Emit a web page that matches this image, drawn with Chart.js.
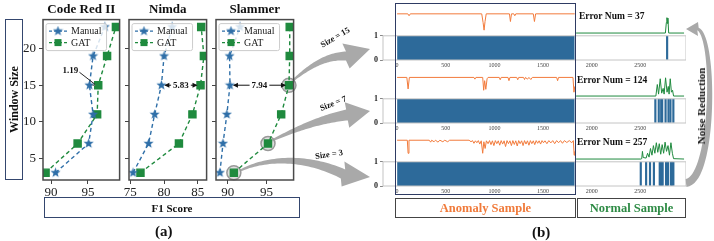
<!DOCTYPE html>
<html>
<head>
<meta charset="utf-8">
<script src="https://cdn.jsdelivr.net/npm/chart.js@4.4.1/dist/chart.umd.min.js"></script>
<style>
body{margin:0;width:714px;height:241px;position:relative;background:#fff;overflow:hidden;font-family:"Liberation Serif","Times New Roman",serif;color:#111}
canvas{position:absolute}
.box{position:absolute;box-sizing:border-box;border:1.5px solid #34466e;display:flex;align-items:center;justify-content:center;font-weight:bold;z-index:6}
.lbl{position:absolute;font-weight:bold;white-space:nowrap;z-index:6}
</style>
</head>
<body>

<canvas id="overlay" width="714" height="241" style="left:0;top:0;"></canvas>

<canvas id="codeChart" width="106" height="198" style="left:20px;top:0;"></canvas>
<canvas id="nimdaChart" width="98" height="198" style="left:115px;top:0;"></canvas>
<canvas id="slammerChart" width="98" height="198" style="left:202px;top:0;"></canvas>

<canvas id="sig0" width="303" height="24" style="left:383px;top:10px;"></canvas>
<canvas id="bar0" width="326" height="41" style="left:360px;top:29px;"></canvas>
<canvas id="sig1" width="303" height="24" style="left:383px;top:73px;"></canvas>
<canvas id="bar1" width="326" height="41" style="left:360px;top:92px;"></canvas>
<canvas id="sig2" width="303" height="24" style="left:383px;top:136px;"></canvas>
<canvas id="bar2" width="326" height="41" style="left:360px;top:155px;"></canvas>

<div class="box" style="left:5px;top:19px;width:18px;height:161px;"><span style="transform:rotate(-90deg);font-size:12px;white-space:nowrap;">Window Size</span></div>
<div class="box" style="left:44px;top:197px;width:256px;height:21px;font-size:11px;">F1 Score</div>
<div class="lbl" style="left:155px;top:223px;font-size:15px;">(a)</div>
<div class="lbl" style="left:532px;top:224px;font-size:15px;">(b)</div>

<div class="box" style="left:395px;top:3px;width:181px;height:192px;border-color:#2e3b63;"></div>
<div class="box" style="left:395px;top:198px;width:181px;height:20px;border-color:#444;color:#f07a3a;font-size:12.5px;">Anomaly Sample</div>
<div class="box" style="left:577px;top:198px;width:109px;height:20px;border-color:#444;color:#2e8b45;font-size:12.5px;">Normal Sample</div>

<div class="lbl" style="left:579px;top:11px;font-size:9.5px;">Error Num = 37</div>
<div class="lbl" style="left:577px;top:75px;font-size:9.5px;">Error Num = 124</div>
<div class="lbl" style="left:577px;top:137px;font-size:9.5px;">Error Num = 257</div>

<div class="lbl" style="left:335px;top:37px;font-size:8.5px;transform:translate(-50%,-50%) rotate(-30deg);">Size = 15</div>
<div class="lbl" style="left:333px;top:103px;font-size:8.5px;transform:translate(-50%,-50%) rotate(-22deg);">Size = 7</div>
<div class="lbl" style="left:329px;top:154px;font-size:8.5px;transform:translate(-50%,-50%) rotate(-8deg);">Size = 3</div>

<div class="lbl" style="left:701px;top:106px;font-size:11px;transform:translate(-50%,-50%) rotate(-90deg);">Noise Reduction</div>

<script>
// ---- data (a) : F1 score per window size ----
const windowSizes = [3, 7, 11, 15, 19, 23];
const sizeTicks = [5, 10, 15, 20];

const codeManual = [90.6, 95.1, 95.7, 95.2, 95.7, 97.3];
const codeGAT = [89.25, 93.6, 96.25, 96.4, 97.6, 98.8];
const codeTicks = [90, 95];

const nimdaManual = [75.4, 77.7, 78.6, 79.6, 80.0, 81.2];
const nimdaGAT = [76.5, 82.2, 84.2, 85.4, 85.9, 85.5];
const nimdaTicks = [75, 80, 85];

const slammerManual = [89.0, 89.4, 89.9, 90.3, 90.25, 91.6];
const slammerGAT = [90.8, 95.2, 96.9, 97.9, 98.0, 98.0];
const slammerTicks = [90, 95];
const circledSizes = [3, 7, 15];

// ---- data (b) : scores and labels over time ----
const timeTicks = [0, 500, 1000, 1500, 2000, 2500];
const anomalyEnd = 1826;

const sig15Anom = [[0,1],[110,1],[123,0.9],[136,1],[870,1],[884,0.55],[894,0.15],[904,0.6],[916,1],[1155,1],[1165,0.6],[1176,1],[1200,1],[1210,0.9],[1220,1],[1400,1],[1412,0.6],[1424,1],[1826,1]];
const sig15Norm = [[1840,0],[2758,0],[2768,0.55],[2774,0.8],[2779,0.5],[2784,0.78],[2792,0],[2950,0]];

const sig7Anom = [[0,0.97],[100,0.97],[113,0.37],[126,0.97],[790,0.97],[800,0.88],[810,0.97],[880,0.97],[890,0.3],[900,0.8],[912,0.35],[925,0.9],[935,0.97],[1050,0.97],[1060,0.85],[1070,0.97],[1140,0.97],[1150,0.8],[1160,0.97],[1230,0.97],[1240,0.85],[1250,0.97],[1300,0.97],[1310,0.86],[1320,0.97],[1340,0.88],[1355,0.97],[1375,0.86],[1390,0.97],[1640,0.97],[1650,0.8],[1660,0.97],[1808,0.97],[1818,0.2],[1826,0.5]];
const sig7Norm = [[1840,0],[2660,0],[2675,0.6],[2688,0.1],[2705,0.9],[2720,0.15],[2735,0.4],[2745,0.1],[2760,0.95],[2775,0.2],[2788,0.5],[2796,0.1],[2808,0.9],[2820,0.2],[2832,0.3],[2842,0],[2950,0]];

const sig3Anom = [[0,0.98],[105,0.98],[113,0.3],[122,0.98],[330,0.98],[345,0.88],[355,0.98],[380,0.9],[395,0.98],[420,0.88],[440,0.98],[470,0.9],[490,0.98],[520,0.9],[540,0.98],[740,0.98],[760,0.9],[775,0.96],[790,0.82],[805,0.95],[820,0.85],[835,0.96],[850,0.78],[865,0.95],[880,0.3],[892,0.9],[905,0.55],[918,0.95],[935,0.8],[950,0.96],[965,0.75],[980,0.95],[995,0.7],[1010,0.96],[1025,0.8],[1040,0.95],[1055,0.72],[1070,0.96],[1085,0.78],[1100,0.95],[1115,0.65],[1130,0.96],[1145,0.8],[1160,0.95],[1175,0.7],[1190,0.96],[1205,0.76],[1220,0.95],[1235,0.68],[1250,0.96],[1265,0.8],[1280,0.95],[1295,0.7],[1310,0.96],[1325,0.78],[1340,0.95],[1355,0.72],[1370,0.96],[1385,0.8],[1400,0.95],[1415,0.75],[1430,0.96],[1445,0.82],[1460,0.95],[1475,0.78],[1490,0.96],[1505,0.85],[1520,0.95],[1540,0.8],[1560,0.96],[1580,0.84],[1600,0.96],[1620,0.8],[1640,0.96],[1660,0.85],[1680,0.96],[1700,0.82],[1720,0.96],[1745,0.86],[1770,0.96],[1795,0.85],[1812,0.96],[1820,0.2],[1826,0.4]];
const sig3Norm = [[1840,0],[2505,0],[2515,0.02],[2522,0.4],[2530,0.08],[2560,0.05],[2575,0.3],[2590,0.1],[2605,0.55],[2620,0.2],[2635,0.7],[2650,0.3],[2665,0.85],[2680,0.35],[2695,0.8],[2710,0.25],[2725,0.75],[2740,0.3],[2755,0.88],[2770,0.4],[2785,0.7],[2800,0.2],[2815,0.85],[2830,0.3],[2842,0.02],[2950,0]];

const missSolid15 = [894];
const missFaint15 = [1158, 1408];
const alarm15 = [2776];

const missSolid7 = [120];
const missFaint7 = [890, 915, 1150, 1250, 1640];
const alarm7 = [2655, 2690, 2715, 2725, 2760, 2790, 2810, 2840];

const missSolid3 = [120, 880, 900];
const missFaint3 = [480, 920, 960, 1000, 1040, 1080, 1120, 1160, 1190, 1230, 1260, 1300, 1380, 1520];
const alarm3 = [2505, 2560, 2600, 2640, 2700, 2710, 2720, 2730, 2765, 2775, 2785, 2815, 2825, 2840];

const blue = "#2f6fa8";
const green = "#1f8a3e";
const orange = "#f27b3c";
const barBlue = "#2d6a9a";

Chart.defaults.font.family = '"Liberation Serif", "Times New Roman", serif';
Chart.defaults.color = "#111";

// filled 5-point star used as marker
function starImage(color){
const c = document.createElement("canvas");
c.width = 11; c.height = 11;
const g = c.getContext("2d");
g.fillStyle = color;
g.beginPath();
for(let i=0;i<10;i++){
const r = i%2===0 ? 5.3 : 2.2;
const a = -Math.PI/2 + i*Math.PI/5;
g.lineTo(5.5 + r*Math.cos(a), 5.5 + r*Math.sin(a));
}
g.closePath();
g.fill();
return c;
}
const star = starImage(blue);

function head(ctx, x, y, dx, dy, len, w){
const l = Math.hypot(dx, dy); dx/=l; dy/=l;
ctx.beginPath();
ctx.moveTo(x, y);
ctx.lineTo(x - dx*len - dy*w/2, y - dy*len + dx*w/2);
ctx.lineTo(x - dx*len + dy*w/2, y - dy*len - dx*w/2);
ctx.closePath();
ctx.fill();
}

const frame = {
id:"frame",
afterDraw(chart, args, o){
const a = chart.chartArea, ctx = chart.ctx;
ctx.save();
ctx.strokeStyle = o.color || "#555";
ctx.lineWidth = o.width || 1;
ctx.strokeRect(a.left, a.top, a.right-a.left, a.bottom-a.top);
ctx.restore();
}
};

// legend drawn inside the plot, top left
const innerLegend = {
id:"innerLegend",
afterDatasetsDraw(chart){
const ctx = chart.ctx, a = chart.chartArea;
const x0 = a.left + 3, y0 = a.top + 4;
ctx.save();
ctx.font = '10px "Liberation Serif", serif';
const tw = Math.max(...chart.data.datasets.map(d => ctx.measureText(d.label).width));
const w = 26 + tw + 4, h = 27;
ctx.fillStyle = "rgba(255,255,255,0.8)";
ctx.strokeStyle = "#ccc";
ctx.lineWidth = 1;
ctx.beginPath();
ctx.roundRect(x0, y0, w, h, 2);
ctx.fill(); ctx.stroke();
chart.data.datasets.forEach((d, i) => {
const yy = y0 + 7.5 + i*11.5;
ctx.strokeStyle = d.borderColor;
ctx.lineWidth = 1.3;
ctx.setLineDash([3, 2]);
ctx.beginPath(); ctx.moveTo(x0+3, yy); ctx.lineTo(x0+21, yy); ctx.stroke();
ctx.setLineDash([]);
if (d.pointStyle === "rect") {
ctx.fillStyle = d.borderColor;
ctx.fillRect(x0+12-3.5, yy-3.5, 7, 7);
} else {
ctx.drawImage(d.pointStyle, x0+12-5.5, yy-5.5);
}
ctx.fillStyle = "#222";
ctx.textBaseline = "middle";
ctx.fillText(d.label, x0+25, yy+0.5);
});
ctx.restore();
}
};

// gap annotation between Manual and GAT
const gapNote = {
id:"gapNote",
afterDatasetsDraw(chart, args, o){
if (!o.label) return;
const i = windowSizes.indexOf(o.at);
const xs = chart.scales.x, ys = chart.scales.y;
const m = xs.getPixelForValue(chart.data.datasets[0].data[i].x);
const g = xs.getPixelForValue(chart.data.datasets[1].data[i].x);
const y = ys.getPixelForValue(o.at);
const ctx = chart.ctx;
ctx.save();
ctx.font = 'bold 9px "Liberation Serif", serif';
ctx.fillStyle = "#111"; ctx.strokeStyle = "#111";
ctx.textAlign = "center"; ctx.textBaseline = "middle";
if (o.style === "callout") {
ctx.strokeStyle = "#777"; ctx.lineWidth = 1.5;
ctx.beginPath(); ctx.moveTo(m+3, y); ctx.lineTo(g-3, y); ctx.stroke();
const tx = m - 19, ty = y - 15;
ctx.fillText(o.label, tx, ty);
ctx.strokeStyle = "#111"; ctx.lineWidth = 0.9;
ctx.beginPath(); ctx.moveTo(tx+9, ty+2); ctx.lineTo((m+g)/2 + 1, y - 1); ctx.stroke();
} else {
const cx = (m+g)/2;
const tw = ctx.measureText(o.label).width;
ctx.fillText(o.label, cx, y);
ctx.lineWidth = 1;
ctx.beginPath();
ctx.moveTo(cx - tw/2 - 2, y); ctx.lineTo(m + 4, y);
ctx.moveTo(cx + tw/2 + 2, y); ctx.lineTo(g - 4, y);
ctx.stroke();
head(ctx, m + 3, y, -1, 0, 5, 5);
head(ctx, g - 3, y, 1, 0, 5, 5);
}
ctx.restore();
}
};

// grey rings around chosen GAT points
const rings = {
id:"rings",
beforeDatasetsDraw(chart, args, o){
if (!o.at) return;
const ctx = chart.ctx;
ctx.save();
o.at.forEach(s => {
const i = windowSizes.indexOf(s);
const x = chart.scales.x.getPixelForValue(chart.data.datasets[1].data[i].x);
const y = chart.scales.y.getPixelForValue(s);
ctx.fillStyle = "rgba(200,200,200,0.6)";
ctx.strokeStyle = "#999"; ctx.lineWidth = 1.5;
ctx.beginPath(); ctx.arc(x, y, 7, 0, Math.PI*2); ctx.fill(); ctx.stroke();
});
ctx.restore();
}
};

function f1Chart(id, title, manual, gat, xMin, xMax, xTicks, axisW, showY, note, circled){
return new Chart(document.getElementById(id), {
type:"line",
data:{
datasets:[
{label:"Manual", data:manual.map((v,i)=>({x:v, y:windowSizes[i]})), borderColor:blue, backgroundColor:blue, borderWidth:1.4, borderDash:[4,3], pointStyle:star, pointRadius:5},
{label:"GAT", data:gat.map((v,i)=>({x:v, y:windowSizes[i]})), borderColor:green, backgroundColor:green, borderWidth:1.4, borderDash:[4,3], pointStyle:"rect", pointRadius:5}
]
},
options:{
animation:false, responsive:false, events:[],
layout:{padding:0},
plugins:{
legend:{display:false}, tooltip:{enabled:false},
title:{display:true, text:title, fullSize:false, color:"#111", font:{size:13, weight:"bold"}, padding:{top:2, bottom:2}},
frame:{color:"#4a4a4a", width:1.5},
gapNote:note, rings:{at:circled}
},
scales:{
x:{type:"linear", min:xMin, max:xMax,
afterBuildTicks:s=>{ s.ticks = xTicks.map(v=>({value:v})); },
afterFit:s=>{ s.height = 18; },
ticks:{font:{size:13}, color:"#222", padding:1, maxRotation:0},
grid:{drawOnChartArea:false, tickLength:4, color:"#444"}, border:{display:false}},
y:{type:"linear", min:2, max:24,
afterBuildTicks:s=>{ s.ticks = sizeTicks.map(v=>({value:v})); },
afterFit:s=>{ s.width = axisW; },
ticks:{display:showY, font:{size:13}, color:"#222", padding:3},
grid:{drawOnChartArea:false, tickLength:4, color:"#444"}, border:{display:false}}
}
},
plugins:[frame, innerLegend, gapNote, rings]
});
}

f1Chart("codeChart", "Code Red II", codeManual, codeGAT, 88.9, 99.3, codeTicks, 23, true, {at:15, label:"1.19", style:"callout"}, null);
f1Chart("nimdaChart", "Nimda", nimdaManual, nimdaGAT, 74.8, 86.3, nimdaTicks, 14, false, {at:15, label:"5.83", style:"double"}, null);
const slammer = f1Chart("slammerChart", "Slammer", slammerManual, slammerGAT, 88.5, 98.5, slammerTicks, 14, false, {at:15, label:"7.94", style:"double"}, circledSizes);

function signalChart(id, anomaly, normal){
new Chart(document.getElementById(id), {
type:"line",
data:{
datasets:[
{data:anomaly.map(p=>({x:p[0], y:p[1]})), borderColor:orange, borderWidth:1, pointRadius:0},
{data:normal.map(p=>({x:p[0], y:p[1]})), borderColor:green, borderWidth:1, pointRadius:0}
]
},
options:{
animation:false, responsive:false, events:[],
layout:{padding:0},
plugins:{legend:{display:false}, tooltip:{enabled:false}},
scales:{
x:{type:"linear", min:-145, max:2970, display:false},
y:{min:-0.05, max:1.2, display:false}
}
}
});
}

function labelChart(id, missSolid, missFaint, alarms){
new Chart(document.getElementById(id), {
type:"line",
data:{
datasets:[
{data:[{x:0, y:1}, {x:anomalyEnd, y:1}], fill:"origin", backgroundColor:barBlue, borderWidth:0, pointRadius:0},
{type:"bar", data:missSolid.map(x=>({x:x, y:1})), backgroundColor:"#ffffff", barThickness:1.5, grouped:false},
{type:"bar", data:missFaint.map(x=>({x:x, y:1})), backgroundColor:"rgba(255,255,255,0.4)", barThickness:1, grouped:false},
{type:"bar", data:alarms.map(x=>({x:x, y:1})), backgroundColor:barBlue, barThickness:1.5, grouped:false}
]
},
options:{
animation:false, responsive:false, events:[],
layout:{padding:{top:5}},
plugins:{legend:{display:false}, tooltip:{enabled:false}, frame:{color:"#c4c4c4", width:1}},
scales:{
x:{type:"linear", min:-145, max:2970, offset:false,
afterBuildTicks:s=>{ s.ticks = timeTicks.map(v=>({value:v})); },
afterFit:s=>{ s.height = 10; },
ticks:{display:true, font:{size:6}, color:"#444", padding:2, maxRotation:0, minRotation:0, autoSkip:false, callback:v=>String(v)},
grid:{drawOnChartArea:false, drawTicks:false, offset:false}, border:{display:false}},
y:{min:0, max:1,
afterBuildTicks:s=>{ s.ticks = [{value:0}, {value:1}]; },
afterFit:s=>{ s.width = 23; },
ticks:{font:{size:8, weight:"bold"}, color:"#222", padding:2},
grid:{drawOnChartArea:false, tickLength:3, color:"#888"}, border:{display:false}}
}
},
plugins:[frame]
});
}

signalChart("sig0", sig15Anom, sig15Norm);
labelChart("bar0", missSolid15, missFaint15, alarm15);
signalChart("sig1", sig7Anom, sig7Norm);
labelChart("bar1", missSolid7, missFaint7, alarm7);
signalChart("sig2", sig3Anom, sig3Norm);
labelChart("bar2", missSolid3, missFaint3, alarm3);

// grey connector arrows
const ov = document.getElementById("overlay").getContext("2d");

function fancyArrow(g, p0, c1, c2, p1, tip, w0, w1, headW){
const left = [], right = [];
for(let i=0;i<=40;i++){
const t = i/40, u = 1-t;
const x = u*u*u*p0[0] + 3*u*u*t*c1[0] + 3*u*t*t*c2[0] + t*t*t*p1[0];
const y = u*u*u*p0[1] + 3*u*u*t*c1[1] + 3*u*t*t*c2[1] + t*t*t*p1[1];
let dx = 3*u*u*(c1[0]-p0[0]) + 6*u*t*(c2[0]-c1[0]) + 3*t*t*(p1[0]-c2[0]);
let dy = 3*u*u*(c1[1]-p0[1]) + 6*u*t*(c2[1]-c1[1]) + 3*t*t*(p1[1]-c2[1]);
const l = Math.hypot(dx, dy) || 1;
const w = (w0 + (w1-w0)*t)/2;
left.push([x - dy/l*w, y + dx/l*w]);
right.push([x + dy/l*w, y - dx/l*w]);
}
const hx = tip[0]-p1[0], hy = tip[1]-p1[1], hl = Math.hypot(hx, hy);
g.beginPath();
left.forEach((p,i)=> i ? g.lineTo(p[0], p[1]) : g.moveTo(p[0], p[1]));
g.lineTo(p1[0] - hy/hl*headW/2, p1[1] + hx/hl*headW/2);
g.lineTo(tip[0], tip[1]);
g.lineTo(p1[0] + hy/hl*headW/2, p1[1] - hx/hl*headW/2);
right.reverse().forEach(p=>g.lineTo(p[0], p[1]));
g.closePath();
g.fill();
}

function ringPoint(size){
const i = windowSizes.indexOf(size);
return [slammer.scales.x.getPixelForValue(slammerGAT[i]) + 202, slammer.scales.y.getPixelForValue(size)];
}

ov.fillStyle = "#a9a9a9";
const r15 = ringPoint(15), r7 = ringPoint(7), r3 = ringPoint(3);
fancyArrow(ov, [r15[0]+3, r15[1]-4], [310, 66], [326, 56], [346, 56], [370, 49], 2, 9, 26);
fancyArrow(ov, [r7[0]+4, r7[1]-3], [298, 128], [322, 119], [347, 115], [370, 111], 2, 11, 26);
fancyArrow(ov, [r3[0]+6, r3[1]-2], [270, 156], [310, 158], [343, 174], [370, 177], 2, 10, 25);
fancyArrow(ov, [686, 183], [714, 180], [716, 38], [698, 29], [686, 29], 8, 3, 14);
</script>
</body>
</html>
